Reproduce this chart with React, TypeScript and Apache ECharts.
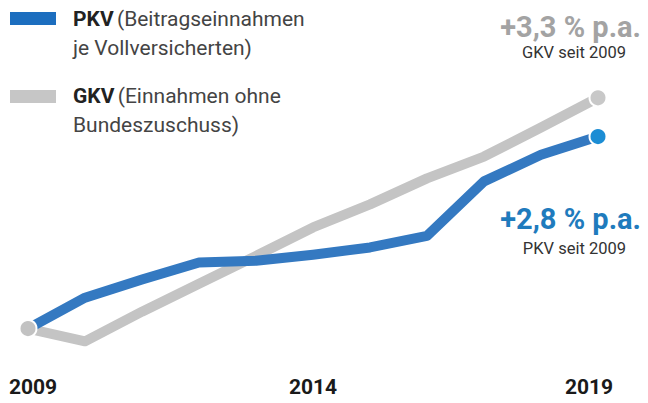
import React, { useEffect, useRef } from "react";
import * as echarts from "echarts";

const years = ["2009", "2010", "2011", "2012", "2013", "2014", "2015", "2016", "2017", "2018", "2019"];
// Index (2009 = 100)
const pkvIndex = [100, 105.1, 108.1, 110.9, 111.2, 112.2, 113.4, 115.3, 124.3, 128.7, 131.7];
const gkvIndex = [100, 97.9, 102.8, 107.4, 112.0, 116.7, 120.5, 124.8, 128.4, 133.2, 138.1];
const pkvLabel = "+2,8 % p.a.";
const gkvLabel = "+3,3 % p.a.";
const pkvSub = "PKV seit 2009";
const gkvSub = "GKV seit 2009";

const FONT = 'Roboto, "DejaVu Sans Condensed", sans-serif';
const BLUE = "#3479c1";
const BLUE_DOT = "#1c8dd4";
const GRAY = "#c4c4c4";

export default function App() {
  const ref = useRef<HTMLDivElement>(null);
  useEffect(() => {
    if (!ref.current) return;
    const chart = echarts.init(ref.current, null, { renderer: "svg" });
    const last = years.length - 1;
    const legendRich = {
      b: { fontSize: 21, fontWeight: "bold", fill: "#222222", fontFamily: FONT, lineHeight: 29 },
      n: { fontSize: 21, fill: "#444444", fontFamily: FONT, lineHeight: 29 },
    };
    chart.setOption({
      animation: false,
      backgroundColor: "#ffffff",
      grid: { left: 28, right: 50, top: 56, bottom: 32 },
      xAxis: {
        type: "category",
        data: years,
        boundaryGap: false,
        axisLine: { show: false },
        axisTick: { show: false },
        splitLine: { show: false },
        axisLabel: {
          interval: 4,
          margin: 5,
          formatter: (v: string) => (v === years[0] ? `{f|${v}}` : v === years[last] ? `{l|${v}}` : `{m|${v}}`),
          rich: {
            f: { fontSize: 21, fontWeight: "bold", color: "#1a1a1a", fontFamily: FONT, padding: [0, 0, 0, 10] },
            m: { fontSize: 21, fontWeight: "bold", color: "#1a1a1a", fontFamily: FONT },
            l: { fontSize: 21, fontWeight: "bold", color: "#1a1a1a", fontFamily: FONT, padding: [0, 18, 0, 0] },
          },
        },
      },
      yAxis: {
        type: "value",
        min: 93,
        max: 145,
        show: false,
      },
      series: [
        {
          type: "line",
          name: "GKV",
          data: gkvIndex,
          symbol: "none",
          z: 2,
          lineStyle: { color: GRAY, width: 10, join: "round" },
        },
        {
          type: "line",
          name: "PKV",
          data: pkvIndex,
          symbol: "none",
          z: 3,
          lineStyle: { color: BLUE, width: 10, join: "round" },
        },
        {
          type: "scatter",
          z: 5,
          symbolSize: 17,
          data: [
            { value: [0, gkvIndex[0]], itemStyle: { color: "#c2c2c2" } },
            { value: [last, gkvIndex[last]], itemStyle: { color: "#c8c8c8" } },
            { value: [last, pkvIndex[last]], itemStyle: { color: BLUE_DOT } },
          ],
          itemStyle: { borderColor: "#ffffff", borderWidth: 2, opacity: 1 },
        },
      ],
      graphic: [
        { type: "rect", left: 10, top: 12, shape: { width: 46, height: 13 }, style: { fill: "#1c6ebf" } },
        {
          type: "text",
          left: 73,
          top: 8,
          style: { text: "{b|PKV} {n|(Beitragseinnahmen}\n{n|je Vollversicherten)}", rich: legendRich },
        },
        { type: "rect", left: 10, top: 90, shape: { width: 46, height: 13 }, style: { fill: "#c6c6c6" } },
        {
          type: "text",
          left: 73,
          top: 85,
          style: { text: "{b|GKV} {n|(Einnahmen ohne}\n{n|Bundeszuschuss)}", rich: legendRich },
        },
        {
          type: "text",
          x: 641,
          y: 27,
          style: {
            text: gkvLabel,
            align: "right",
            verticalAlign: "middle",
            fontSize: 29,
            fontWeight: "bold",
            fill: "#a3a3a3",
            fontFamily: FONT,
          },
        },
        {
          type: "text",
          x: 626,
          y: 52,
          style: { text: gkvSub, align: "right", verticalAlign: "middle", fontSize: 16.5, fill: "#333333", fontFamily: FONT },
        },
        {
          type: "text",
          x: 641,
          y: 219,
          style: {
            text: pkvLabel,
            align: "right",
            verticalAlign: "middle",
            fontSize: 29,
            fontWeight: "bold",
            fill: "#1f7bbd",
            fontFamily: FONT,
          },
        },
        {
          type: "text",
          x: 626,
          y: 248,
          style: { text: pkvSub, align: "right", verticalAlign: "middle", fontSize: 16.5, fill: "#333333", fontFamily: FONT },
        },
      ],
    });
    return () => chart.dispose();
  }, []);
  return (
    <div
      ref={ref}
      style={{ position: "fixed", left: 0, top: 0, width: 648, height: 403, background: "#ffffff" }}
    />
  );
}
